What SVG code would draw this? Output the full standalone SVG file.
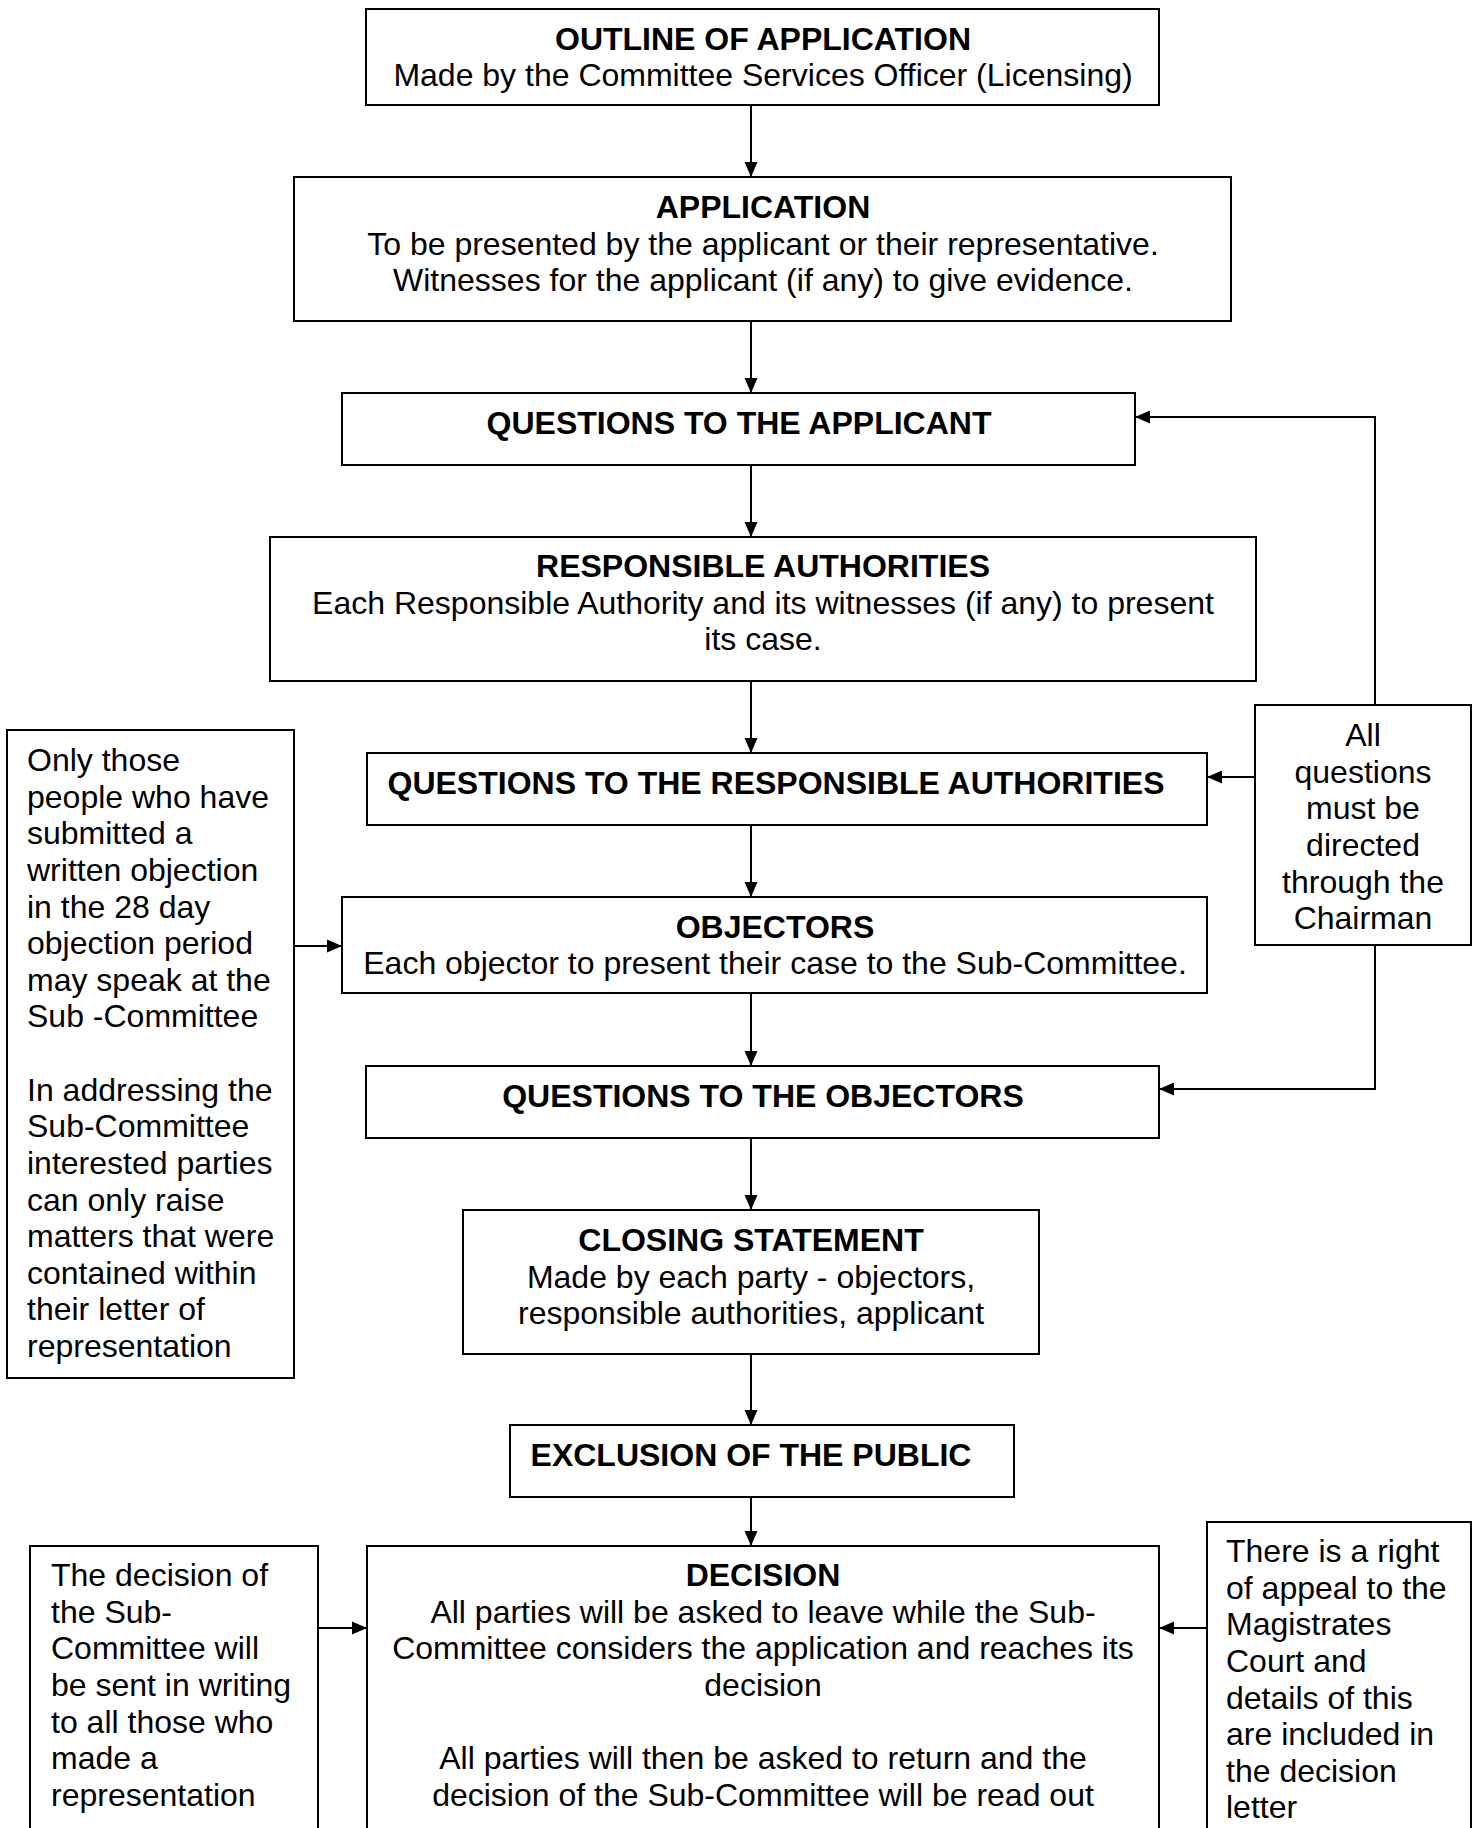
<svg xmlns="http://www.w3.org/2000/svg" width="1482" height="1828" viewBox="0 0 1482 1828">
<style>
.box{fill:#fff;stroke:#000;stroke-width:2}
text{font-family:"Liberation Sans",Arial,sans-serif;font-size:32px;fill:#000}
.t{font-weight:bold}
.c{text-anchor:middle}
.ln{fill:none;stroke:#000;stroke-width:2}
</style>
<defs>
<marker id="ah" markerUnits="userSpaceOnUse" markerWidth="16" markerHeight="14" refX="15" refY="7" orient="auto">
<path d="M0,0.5 L15,7 L0,13.5 z" fill="#000"/>
</marker>
</defs>
<rect width="1482" height="1828" fill="#fff"/>
<g id="connectors">
<line class="ln" x1="751" y1="105" x2="751" y2="177" marker-end="url(#ah)"/>
<line class="ln" x1="751" y1="321" x2="751" y2="393" marker-end="url(#ah)"/>
<line class="ln" x1="751" y1="465" x2="751" y2="537" marker-end="url(#ah)"/>
<line class="ln" x1="751" y1="681" x2="751" y2="753" marker-end="url(#ah)"/>
<line class="ln" x1="751" y1="825" x2="751" y2="897" marker-end="url(#ah)"/>
<line class="ln" x1="751" y1="993" x2="751" y2="1066" marker-end="url(#ah)"/>
<line class="ln" x1="751" y1="1138" x2="751" y2="1210" marker-end="url(#ah)"/>
<line class="ln" x1="751" y1="1354" x2="751" y2="1425" marker-end="url(#ah)"/>
<line class="ln" x1="751" y1="1497" x2="751" y2="1546" marker-end="url(#ah)"/>
<polyline class="ln" points="1375,705 1375,417 1135,417" marker-end="url(#ah)"/>
<line class="ln" x1="1255" y1="777" x2="1207" y2="777" marker-end="url(#ah)"/>
<polyline class="ln" points="1375,945 1375,1089 1159,1089" marker-end="url(#ah)"/>
<line class="ln" x1="294" y1="946" x2="342" y2="946" marker-end="url(#ah)"/>
<line class="ln" x1="318" y1="1628" x2="367" y2="1628" marker-end="url(#ah)"/>
<line class="ln" x1="1207" y1="1628" x2="1159" y2="1628" marker-end="url(#ah)"/>
</g>
<g id="outline">
<rect class="box" x="366" y="9" width="793" height="96"/>
<text class="t c" x="763" y="50">OUTLINE OF APPLICATION</text>
<text class="c" x="763" y="86">Made by the Committee Services Officer (Licensing)</text>
</g>
<g id="application">
<rect class="box" x="294" y="177" width="937" height="144"/>
<text class="t c" x="763" y="218">APPLICATION</text>
<text class="c" x="763" y="255">To be presented by the applicant or their representative.</text>
<text class="c" x="763" y="291">Witnesses for the applicant (if any) to give evidence.</text>
</g>
<g id="q-applicant">
<rect class="box" x="342" y="393" width="793" height="72"/>
<text class="t c" x="739" y="434">QUESTIONS TO THE APPLICANT</text>
</g>
<g id="resp-auth">
<rect class="box" x="270" y="537" width="986" height="144"/>
<text class="t c" x="763" y="577">RESPONSIBLE AUTHORITIES</text>
<text class="c" x="763" y="614">Each Responsible Authority and its witnesses (if any) to present</text>
<text class="c" x="763" y="650">its case.</text>
</g>
<g id="q-resp-auth">
<rect class="box" x="367" y="753" width="840" height="72"/>
<text class="t c" x="776" y="794">QUESTIONS TO THE RESPONSIBLE AUTHORITIES</text>
</g>
<g id="objectors">
<rect class="box" x="342" y="897" width="865" height="96"/>
<text class="t c" x="775" y="938">OBJECTORS</text>
<text class="c" x="775" y="974">Each objector to present their case to the Sub-Committee.</text>
</g>
<g id="q-objectors">
<rect class="box" x="366" y="1066" width="793" height="72"/>
<text class="t c" x="763" y="1107">QUESTIONS TO THE OBJECTORS</text>
</g>
<g id="closing">
<rect class="box" x="463" y="1210" width="576" height="144"/>
<text class="t c" x="751" y="1251">CLOSING STATEMENT</text>
<text class="c" x="751" y="1288">Made by each party - objectors,</text>
<text class="c" x="751" y="1324">responsible authorities, applicant</text>
</g>
<g id="exclusion">
<rect class="box" x="510" y="1425" width="504" height="72"/>
<text class="t c" x="751" y="1466">EXCLUSION OF THE PUBLIC</text>
</g>
<g id="decision">
<rect class="box" x="367" y="1546" width="792" height="300"/>
<text class="t c" x="763" y="1586">DECISION</text>
<text class="c" x="763" y="1623">All parties will be asked to leave while the Sub-</text>
<text class="c" x="763" y="1659">Committee considers the application and reaches its</text>
<text class="c" x="763" y="1696">decision</text>
<text class="c" x="763" y="1769">All parties will then be asked to return and the</text>
<text class="c" x="763" y="1806">decision of the Sub-Committee will be read out</text>
</g>
<g id="chairman-note">
<rect class="box" x="1255" y="705" width="216" height="240"/>
<text class="c" x="1363" y="746">All</text>
<text class="c" x="1363" y="783">questions</text>
<text class="c" x="1363" y="819">must be</text>
<text class="c" x="1363" y="856">directed</text>
<text class="c" x="1363" y="893">through the</text>
<text class="c" x="1363" y="929">Chairman</text>
</g>
<g id="objection-note">
<rect class="box" x="7" y="730" width="287" height="648"/>
<text x="27" y="771">Only those</text>
<text x="27" y="808">people who have</text>
<text x="27" y="844">submitted a</text>
<text x="27" y="881">written objection</text>
<text x="27" y="918">in the 28 day</text>
<text x="27" y="954">objection period</text>
<text x="27" y="991">may speak at the</text>
<text x="27" y="1027">Sub -Committee</text>
<text x="27" y="1101">In addressing the</text>
<text x="27" y="1137">Sub-Committee</text>
<text x="27" y="1174">interested parties</text>
<text x="27" y="1211">can only raise</text>
<text x="27" y="1247">matters that were</text>
<text x="27" y="1284">contained within</text>
<text x="27" y="1320">their letter of</text>
<text x="27" y="1357">representation</text>
</g>
<g id="written-note">
<rect class="box" x="30" y="1546" width="288" height="300"/>
<text x="51" y="1586">The decision of</text>
<text x="51" y="1623">the Sub-</text>
<text x="51" y="1659">Committee will</text>
<text x="51" y="1696">be sent in writing</text>
<text x="51" y="1733">to all those who</text>
<text x="51" y="1769">made a</text>
<text x="51" y="1806">representation</text>
</g>
<g id="appeal-note">
<rect class="box" x="1207" y="1522" width="264" height="324"/>
<text x="1226" y="1562">There is a right</text>
<text x="1226" y="1599">of appeal to the</text>
<text x="1226" y="1635">Magistrates</text>
<text x="1226" y="1672">Court and</text>
<text x="1226" y="1709">details of this</text>
<text x="1226" y="1745">are included in</text>
<text x="1226" y="1782">the decision</text>
<text x="1226" y="1818">letter</text>
</g>
</svg>
